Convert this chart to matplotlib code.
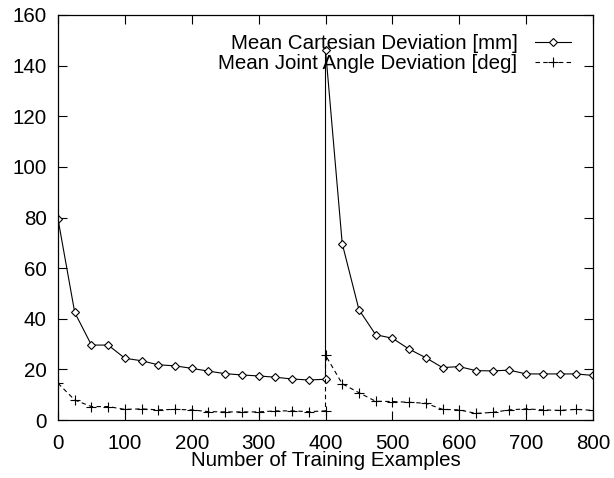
import numpy as np
import matplotlib
matplotlib.use("Agg")
import matplotlib.pyplot as plt

plt.rcParams['font.family'] = ['Liberation Sans', 'DejaVu Sans']

# training examples; 400 appears twice (the reset point)
examples = [0, 25, 50, 75, 100, 125, 150, 175, 200, 225, 250, 275, 300, 325, 350, 375, 400,
            400, 425, 450, 475, 500, 525, 550, 575, 600, 625, 650, 675, 700, 725, 750, 775, 800]

cartesian_mm = [79.4, 42.5, 29.6, 29.6, 24.4, 23.4, 21.8, 21.4, 20.4, 19.3, 18.3, 17.8, 17.4, 16.9, 16.2, 15.8, 16.1,
                146.3, 69.7, 43.6, 33.7, 32.3, 28.0, 24.6, 20.7, 21.1, 19.5, 19.4, 19.7, 18.2, 18.2, 18.2, 18.2, 17.6]

joint_deg = [14.5, 7.9, 5.3, 5.3, 4.2, 4.4, 4.0, 4.2, 4.0, 3.3, 3.2, 3.2, 3.2, 3.6, 3.6, 3.3, 3.6,
             25.6, 14.3, 10.8, 7.4, 7.3, 7.0, 6.6, 4.2, 4.0, 2.6, 3.0, 4.0, 4.4, 4.0, 3.8, 4.2, 3.8]

FS = 14.8

fig = plt.figure(figsize=(6.14, 4.78), dpi=100)
ax = fig.add_axes([58/614, 1 - 420/478, (593 - 58)/614, (420 - 15)/478])

ax.plot(examples, cartesian_mm, color='black', lw=0.8, marker='D', ms=4.5,
        mfc='white', mec='black', mew=0.8, label='Mean Cartesian Deviation [mm]')
ax.plot(examples, joint_deg, color='black', lw=0.8, ls=(0, (4, 3)), marker='+', ms=7,
        mew=0.8, label='Mean Joint Angle Deviation [deg]')

ax.set_xlim(0, 800)
ax.set_ylim(0, 160)
ax.set_xticks(np.arange(0, 801, 100))
ax.set_yticks(np.arange(0, 161, 20))
ax.tick_params(direction='in', length=6.5, width=0.8, top=True, right=True,
               labelsize=FS, pad=8)
ax.tick_params(axis='x', pad=10)
for s in ax.spines.values():
    s.set_linewidth(0.9)

ax.set_xlabel('Number of Training Examples', fontsize=FS, labelpad=-1)

# legend: text right-aligned, sample line on the right (gnuplot style)
ax.legend(loc='upper right', frameon=False, markerfirst=False, fontsize=FS,
          handlelength=1.75, handletextpad=0.85, labelspacing=0.05,
          borderaxespad=0.0, borderpad=0.0,
          bbox_to_anchor=(571/614, 1 - 34/478), bbox_transform=fig.transFigure)

fig.savefig('out.png', dpi=100)
